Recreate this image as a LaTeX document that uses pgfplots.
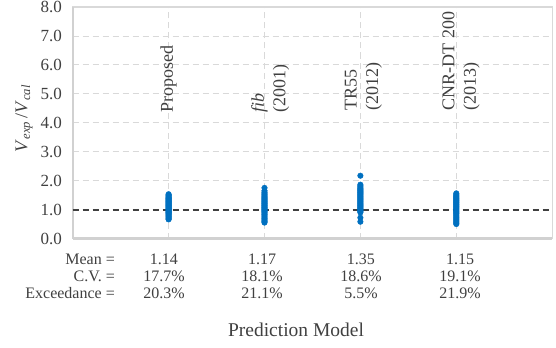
\documentclass[border=0pt]{standalone}
\usepackage{fontspec}
\IfFontExistsTF{LiberationSerif-Regular.ttf}{%
  \setmainfont{LiberationSerif-Regular.ttf}[BoldFont=LiberationSerif-Bold.ttf, ItalicFont=LiberationSerif-Italic.ttf, BoldItalicFont=LiberationSerif-BoldItalic.ttf]}{}
\usepackage{pgfplots}
\pgfplotsset{compat=1.18}
\definecolor{ptblue}{HTML}{0070C0}
\definecolor{txt}{HTML}{404040}
\definecolor{gridc}{HTML}{D9D9D9}
\definecolor{refc}{HTML}{404040}
\begin{document}
\begin{tikzpicture}
\begin{axis}[
  scale only axis, width=479.5bp, height=231.5bp,
  xmin=0, xmax=5, ymin=0, ymax=8,
  xtick={1,2,3,4}, xticklabels={},
  ytick={0,1,2,3,4,5,6,7,8},
  yticklabels={0.0,1.0,2.0,3.0,4.0,5.0,6.0,7.0,8.0},
  major tick length=0pt,
  grid=major,
  major grid style={gridc, dash pattern=on 6bp off 4bp, line width=0.8bp},
  axis line style={gridc, line width=1.2bp},
  yticklabel style={font=\fontsize{17bp}{20bp}\selectfont, text=txt, inner sep=0pt, xshift=-10.5bp},
  clip=false,
]
\coordinate (SW) at (rel axis cs:0,0);
\draw[line width=2.5bp, color=black!18] (axis cs:0,0) -- (axis cs:5,0);
\draw[line width=1.8bp, color=black!18] (axis cs:0,0) -- (axis cs:0,8);
\addplot[refc, line width=2bp, dash pattern=on 6bp off 4bp] coordinates {(0,1) (5,1)};
\addplot[only marks, mark=*, mark size=2.8bp, color=ptblue, mark options={draw=ptblue, fill=ptblue}] coordinates {
(1,0.66) (1,0.68) (1,0.71) (1,0.74) (1,0.77) (1,0.80) (1,0.83) (1,0.86) (1,0.88) (1,0.90)
(1,0.92) (1,0.94) (1,0.96) (1,0.98) (1,1.00) (1,1.02) (1,1.04) (1,1.06) (1,1.08) (1,1.10)
(1,1.12) (1,1.14) (1,1.16) (1,1.18) (1,1.20) (1,1.22) (1,1.24) (1,1.26) (1,1.28) (1,1.30)
(1,1.32) (1,1.34) (1,1.36) (1,1.38) (1,1.40) (1,1.42) (1,1.45) (1,1.48) (1,1.50) (1,1.53)
};
\addplot[only marks, mark=*, mark size=2.8bp, color=ptblue, mark options={draw=ptblue, fill=ptblue}] coordinates {
(2,0.55) (2,0.58) (2,0.62) (2,0.66) (2,0.70) (2,0.74) (2,0.78) (2,0.82) (2,0.86) (2,0.90)
(2,0.93) (2,0.96) (2,0.99) (2,1.02) (2,1.05) (2,1.08) (2,1.11) (2,1.14) (2,1.17) (2,1.20)
(2,1.23) (2,1.26) (2,1.29) (2,1.32) (2,1.35) (2,1.38) (2,1.41) (2,1.44) (2,1.48) (2,1.52)
(2,1.56) (2,1.60) (2,1.65) (2,1.75)
};
\addplot[only marks, mark=*, mark size=2.8bp, color=ptblue, mark options={draw=ptblue, fill=ptblue}] coordinates {
(3,0.58) (3,0.72) (3,0.90) (3,0.93) (3,0.96) (3,0.99) (3,1.02) (3,1.05) (3,1.08) (3,1.11)
(3,1.14) (3,1.17) (3,1.20) (3,1.23) (3,1.26) (3,1.29) (3,1.32) (3,1.35) (3,1.38) (3,1.41)
(3,1.44) (3,1.47) (3,1.50) (3,1.53) (3,1.56) (3,1.59) (3,1.62) (3,1.65) (3,1.68) (3,1.71)
(3,1.74) (3,1.78) (3,1.82) (3,1.86) (3,2.17)
};
\addplot[only marks, mark=*, mark size=2.8bp, color=ptblue, mark options={draw=ptblue, fill=ptblue}] coordinates {
(4,0.50) (4,0.53) (4,0.57) (4,0.61) (4,0.65) (4,0.69) (4,0.73) (4,0.77) (4,0.81) (4,0.85)
(4,0.88) (4,0.91) (4,0.94) (4,0.97) (4,1.00) (4,1.03) (4,1.06) (4,1.09) (4,1.12) (4,1.15)
(4,1.18) (4,1.21) (4,1.24) (4,1.27) (4,1.30) (4,1.33) (4,1.36) (4,1.39) (4,1.42) (4,1.45)
(4,1.48) (4,1.52) (4,1.56)
};
% rotated model labels
\tikzset{mlab/.style={rotate=90, anchor=west, inner sep=0pt, align=left, text=txt, font=\fontsize{18bp}{21.5bp}\selectfont}}
\node[mlab] at (axis cs:1,4.35) {Proposed};
\node[mlab] at (axis cs:2.06,4.35) {\textit{fib}\\(2001)};
\node[mlab] at (axis cs:3.03,4.42) {TR55\\(2012)};
\node[mlab] at (axis cs:4.05,4.42) {CNR-DT 200\\(2013)};
% y label
\node[rotate=90, text=txt, inner sep=0pt, font=\fontsize{18bp}{20bp}\selectfont] at (axis cs:-0.508,4.15)
  {\textit{V}\textsubscript{\textit{exp}}\,/\textit{V}\textsubscript{\textit{cal}}};
% statistics table
\tikzset{tlab/.style={anchor=base east, inner sep=0pt, text=txt, font=\fontsize{16bp}{19bp}\selectfont},
         tval/.style={anchor=base, inner sep=0pt, text=txt, font=\fontsize{16bp}{19bp}\selectfont}}
\node[tlab] at (axis cs:0.441,-0.89) {Mean =};
\node[tlab] at (axis cs:0.441,-1.49) {C.V. =};
\node[tlab] at (axis cs:0.441,-2.09) {Exceedance =};
\node[tval] at (axis cs:0.952,-0.89) {1.14};
\node[tval] at (axis cs:1.974,-0.89) {1.17};
\node[tval] at (axis cs:3.006,-0.89) {1.35};
\node[tval] at (axis cs:4.04,-0.89) {1.15};
\node[tval] at (axis cs:0.952,-1.49) {17.7\%};
\node[tval] at (axis cs:1.974,-1.49) {18.1\%};
\node[tval] at (axis cs:3.006,-1.49) {18.6\%};
\node[tval] at (axis cs:4.04,-1.49) {19.1\%};
\node[tval] at (axis cs:0.952,-2.09) {20.3\%};
\node[tval] at (axis cs:1.974,-2.09) {21.1\%};
\node[tval] at (axis cs:3.006,-2.09) {5.5\%};
\node[tval] at (axis cs:4.04,-2.09) {21.9\%};
\node[anchor=base, inner sep=0pt, text=txt, font=\fontsize{19.5bp}{22bp}\selectfont] at (axis cs:2.329,-3.39) {Prediction Model};
\end{axis}
\pgfresetboundingbox
\path[use as bounding box] (SW) ++(-72.7bp,-109.5bp) rectangle ++(556bp,348bp);
\end{tikzpicture}
\end{document}
